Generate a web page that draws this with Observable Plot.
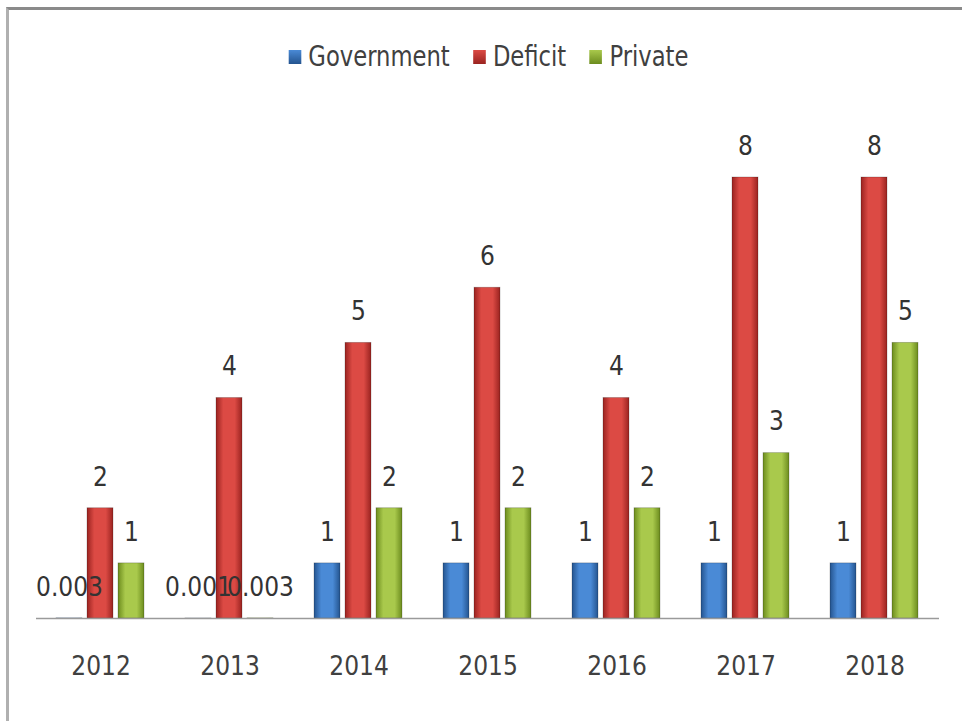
<!DOCTYPE html>
<html>
<head>
<meta charset="utf-8">
<script src="https://cdn.jsdelivr.net/npm/d3@7"></script>
<script src="https://cdn.jsdelivr.net/npm/@observablehq/plot@0.6"></script>
<style>
  body { margin: 0; background: #fff; width: 962px; height: 721px; overflow: hidden; position: relative;
         font-family: "Liberation Sans Narrow", "DejaVu Sans Condensed", "Open Sans", sans-serif; color: #404040; }
  #frame { position: absolute; left: 6px; top: 7px; width: 960px; height: 720px;
           border-top: 3px solid #8a8a8a; border-left: 3px solid #b0b0b0; box-sizing: border-box; }
  #legend { position: absolute; top: 38px; left: 0; width: 962px; display: flex; justify-content: center;
            gap: 26px; font-size: 28px; line-height: 38px; padding-left: 14px; box-sizing: border-box;
            transform: scaleX(0.9); transform-origin: 493px 0; }
  .item { display: flex; align-items: center; gap: 8px; }
  .sw { width: 14px; height: 14px; display: inline-block; }
  #chart { position: absolute; left: 0; top: 90px; }
</style>
</head>
<body>
<div id="frame"></div>
<div id="legend"></div>
<div id="chart"></div>
<script>
const years = ["2012", "2013", "2014", "2015", "2016", "2017", "2018"];
const seriesNames = ["Government", "Deficit", "Private"];
const government = [0.003, 0.001, 1, 1, 1, 1, 1];
const deficit = [2, 4, 5, 6, 4, 8, 8];
const privateVals = [1, 0.003, 2, 2, 2, 3, 5];

const seriesValues = [government, deficit, privateVals];
const gradIds = {Government: "gGov", Deficit: "gDef", Private: "gPri"};
const gradColors = {
  Government: ["#24548f", "#4a8ad6"],
  Deficit: ["#9a2320", "#dc4a44"],
  Private: ["#6c8c1e", "#a9c94c"]
};

const data = [];
years.forEach((y, i) => seriesNames.forEach((s, j) => data.push({year: y, series: s, value: seriesValues[j][i]})));

const font = '"Liberation Sans Narrow", "DejaVu Sans Condensed", "Open Sans", sans-serif';

const chart = Plot.plot({
  width: 962,
  height: 631,
  marginLeft: 36,
  marginRight: 23,
  marginTop: 87,
  marginBottom: 103,
  style: {fontFamily: font, color: "#404040", background: "transparent"},
  fx: {domain: years, padding: 0},
  x: {domain: seriesNames, axis: null, paddingInner: 0.15, paddingOuter: 0.62},
  y: {domain: [0, 8], axis: null},
  color: {type: "identity"},
  marks: [
    Plot.barY(data, {
      fx: "year", x: "series", y: "value",
      fill: d => `url(#${gradIds[d.series]})`,
      stroke: "rgba(0,0,0,0.25)", strokeWidth: 0.8
    }),
    Plot.ruleY([0], {stroke: "#9a9a9a", strokeWidth: 1.5}),
    Plot.text(data, {
      fx: "year", x: "series", y: "value",
      text: d => String(d.value),
      dy: -31, fontSize: 26, fill: "#333333", lineAnchor: "middle"
    }),
    Plot.axisFx({anchor: "bottom", tickSize: 0, tickPadding: 38, fontSize: 26, label: null, fill: "#404040"})
  ]
});

// gradient definitions for the beveled bar look
const svgNS = "http://www.w3.org/2000/svg";
const defs = document.createElementNS(svgNS, "defs");
for (const s of seriesNames) {
  const g = document.createElementNS(svgNS, "linearGradient");
  g.setAttribute("id", gradIds[s]);
  g.setAttribute("x1", "0"); g.setAttribute("x2", "1"); g.setAttribute("y1", "0"); g.setAttribute("y2", "0");
  const [dark, light] = gradColors[s];
  [[0, dark], [0.28, light], [0.72, light], [1, dark]].forEach(([o, c]) => {
    const st = document.createElementNS(svgNS, "stop");
    st.setAttribute("offset", o); st.setAttribute("stop-color", c);
    g.appendChild(st);
  });
  defs.appendChild(g);
}
chart.insertBefore(defs, chart.firstChild);
document.getElementById("chart").appendChild(chart);

// legend
const legend = document.getElementById("legend");
for (const s of seriesNames) {
  const item = document.createElement("div");
  item.className = "item";
  const sw = document.createElement("span");
  sw.className = "sw";
  const [dark, light] = gradColors[s];
  sw.style.background = `linear-gradient(to bottom, ${light}, ${dark})`;
  const label = document.createElement("span");
  label.textContent = s;
  item.appendChild(sw); item.appendChild(label);
  legend.appendChild(item);
}
</script>
</body>
</html>
